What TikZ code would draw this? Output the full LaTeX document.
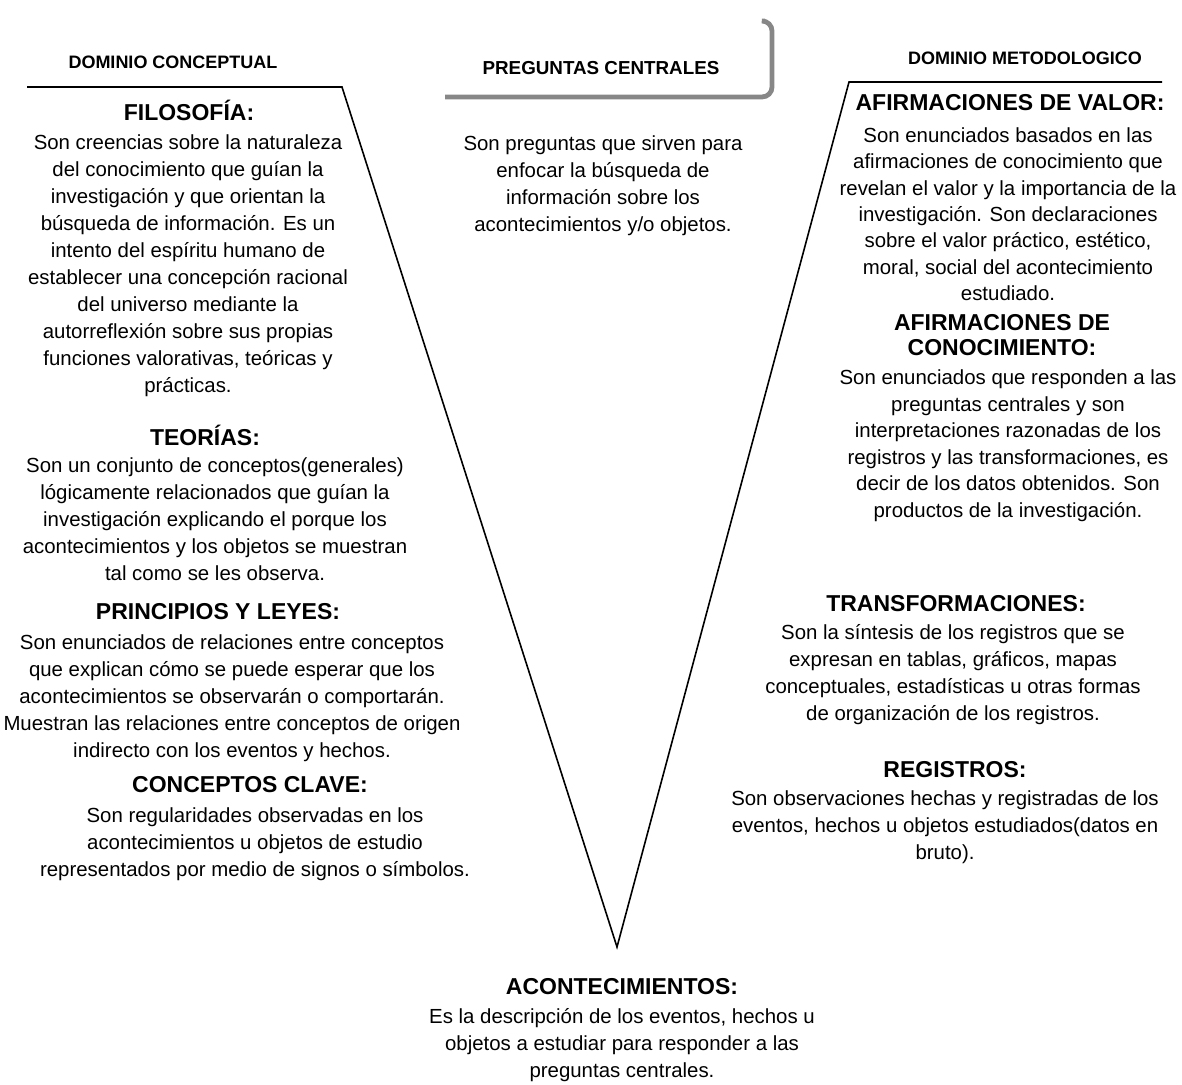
\documentclass[tikz,border=0pt]{standalone}
\usepackage{fontspec}
\setmainfont{Liberation Sans}
\usepackage{tikz}
\definecolor{mgrey}{rgb}{0.53, 0.53, 0.53}
\tikzset{dominio/.style = {font=\bfseries\fontsize{9}{11}\selectfont, inner sep=0pt},
         titulo/.style = {font=\bfseries\fontsize{11.5}{12.5}\selectfont, inner sep=0pt, align=center},
         cuerpo/.style = {font=\fontsize{10.2}{13.5}\selectfont, inner sep=0pt, align=center, anchor=north},
         vline/.style = {line width=0.8pt, line join=miter}}

\begin{document}
\begin{tikzpicture}[x=0.5pt, y=-0.5pt]
    \useasboundingbox (0, 0) rectangle (1182, 1085);

    \coordinate (izq) at (27, 87);
    \coordinate (esqizq) at (342, 87);
    \coordinate (vertice) at (617, 947);
    \coordinate (esqder) at (849, 82);
    \coordinate (der) at (1162, 82);
    \draw [vline] (izq) -- (esqizq) -- (vertice) -- (esqder) -- (der);

    \draw [mgrey, line width=2.4pt, rounded corners=5pt] (445, 97) -- (772, 97) -- (772, 21) -- (765, 21);

    \node [dominio] (dconc) at (173, 62) {DOMINIO CONCEPTUAL};
    \node [dominio] (dmet) at (1025, 58) {DOMINIO METODOLOGICO};
    \node [dominio, font=\bfseries\fontsize{9.4}{11}\selectfont] (preg) at (601, 68) {PREGUNTAS CENTRALES};

    \node [titulo] (filo) at (189, 110) {FILOSOFÍA:};
    \node [cuerpo] (filotxt) at (188, 134.5) {Son creencias sobre la naturaleza\\del conocimiento que guían la\\investigación y que orientan la\\búsqueda de información. Es un\\intento del espíritu humano de\\establecer una concepción racional\\del universo mediante la\\autorreflexión sobre sus propias\\funciones valorativas, teóricas y\\prácticas.};

    \node [titulo] (teo) at (205, 435) {TEORÍAS:};
    \node [cuerpo] (teotxt) at (215, 457.5) {Son un conjunto de conceptos(generales)\\lógicamente relacionados que guían la\\investigación explicando el porque los\\acontecimientos y los objetos se muestran\\tal como se les observa.};

    \node [titulo] (prin) at (218, 612) {PRINCIPIOS Y LEYES:};
    \node [cuerpo] (printxt) at (232, 634.5) {Son enunciados de relaciones entre conceptos\\que explican cómo se puede esperar que los\\acontecimientos se observarán o comportarán.\\Muestran las relaciones entre conceptos de origen\\indirecto con los eventos y hechos.};

    \node [titulo] (conc) at (250, 785) {CONCEPTOS CLAVE:};
    \node [cuerpo] (conctxt) at (255, 807.5) {Son regularidades observadas en los\\acontecimientos u objetos de estudio\\representados por medio de signos o símbolos.};

    \node [cuerpo] (pregtxt) at (603, 135.5) {Son preguntas que sirven para\\enfocar la búsqueda de\\información sobre los\\acontecimientos y/o objetos.};

    \node [titulo] (acon) at (622, 987) {ACONTECIMIENTOS:};
    \node [cuerpo] (acontxt) at (622, 1008.5) {Es la descripción de los eventos, hechos u\\objetos a estudiar para responder a las\\preguntas centrales.};

    \node [titulo] (valor) at (1010, 103) {AFIRMACIONES DE VALOR:};
    \node [cuerpo, font=\fontsize{10.2}{13.15}\selectfont] (valortxt) at (1008, 127.5) {Son enunciados basados en las\\afirmaciones de conocimiento que\\revelan el valor y la importancia de la\\investigación. Son declaraciones\\sobre el valor práctico, estético,\\moral, social del acontecimiento\\estudiado.};

    \node [titulo] (conoc) at (1002, 335.5) {AFIRMACIONES DE\\CONOCIMIENTO:};
    \node [cuerpo, font=\fontsize{10.2}{13.25}\selectfont] (conoctxt) at (1008, 369.5) {Son enunciados que responden a las\\preguntas centrales y son\\interpretaciones razonadas de los\\registros y las transformaciones, es\\decir de los datos obtenidos. Son\\productos de la investigación.};

    \node [titulo] (trans) at (956, 604) {TRANSFORMACIONES:};
    \node [cuerpo] (transtxt) at (953, 624.5) {Son la síntesis de los registros que se\\expresan en tablas, gráficos, mapas\\conceptuales, estadísticas u otras formas\\de organización de los registros.};

    \node [titulo] (reg) at (955, 770) {REGISTROS:};
    \node [cuerpo] (regtxt) at (945, 790.5) {Son observaciones hechas y registradas de los\\eventos, hechos u objetos estudiados(datos en\\bruto).};
  \end{tikzpicture}
\end{document}
